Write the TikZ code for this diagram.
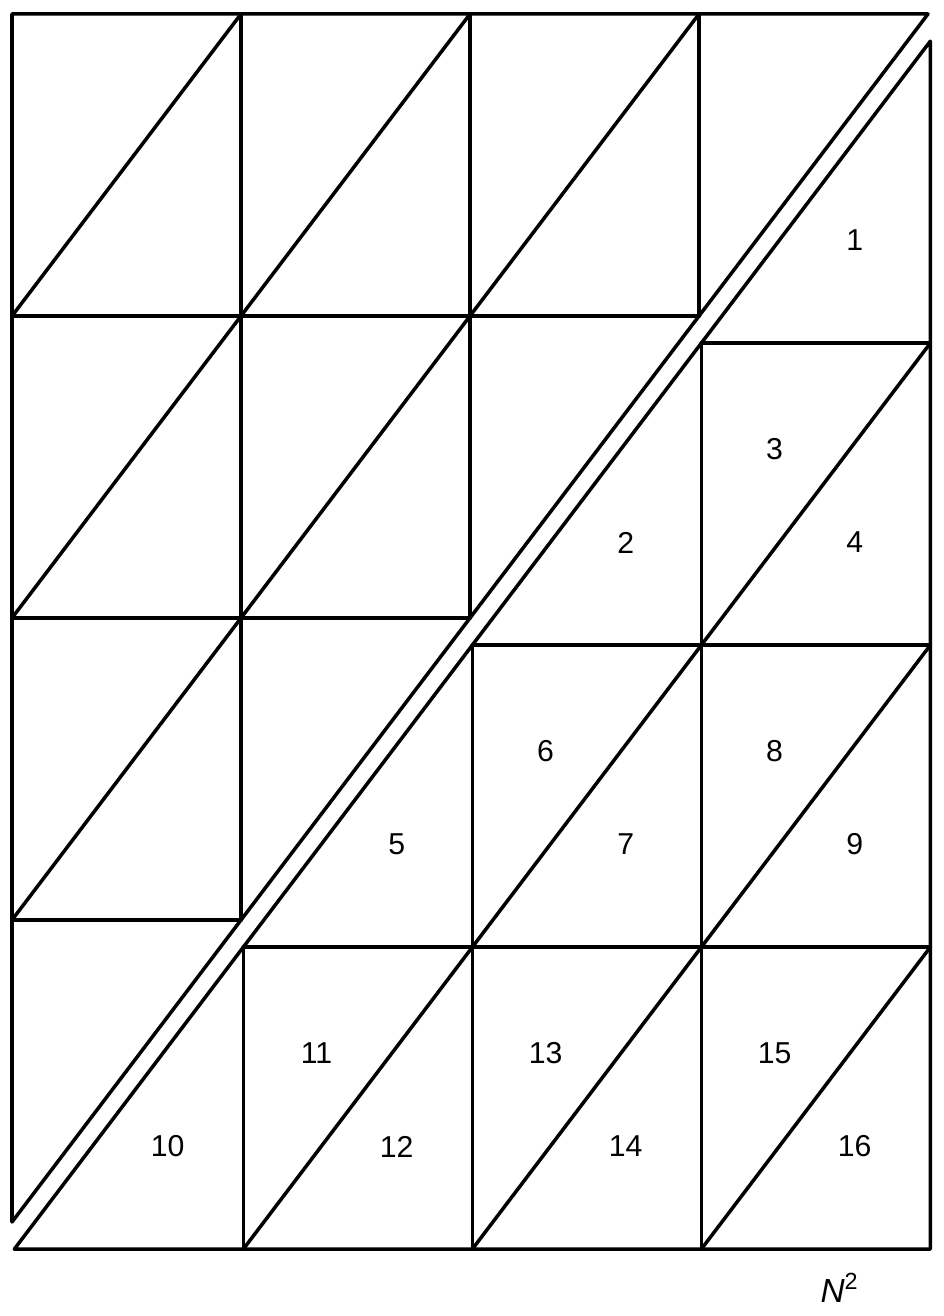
\documentclass[tikz,border=0pt]{standalone}
\usepackage{fontspec}
\setmainfont{Liberation Sans}
\begin{document}
\begin{tikzpicture}[x=2.29cm, y=3.02cm,
    cell edge/.style={line width=1pt, line join=round, line cap=round},
    cell number/.style={font=\fontsize{8.6}{10}\selectfont, inner sep=0pt}]
    \useasboundingbox (-0.12cm,-0.94cm) rectangle (9.31cm,12.22cm);

    % Parte superiore
    \begin{scope}
        \draw[cell edge] (0,0) -- (0,4) -- (4,4) -- cycle;
        \foreach \k in {1,2,3} {
            \draw[cell edge] (0,\k) -- (\k,\k);
            \draw[cell edge] (\k,4) -- (\k,\k);
            \draw[cell edge] (0,\k) -- (4-\k,4);
        }
    \end{scope}

    % Parte inferiore
    \begin{scope}[shift={(0.01,-0.09)}]
        \draw[cell edge] (0,0) -- (4,0) -- (4,4) -- cycle;
        \foreach \k in {1,2,3} {
            \draw[cell edge] (\k,\k) -- (4,\k);
            \draw[cell edge] (\k,0) -- (\k,\k);
            \draw[cell edge] (\k,0) -- (4,4-\k);
        }

        % Numeri
        \foreach \n/\x/\y in {1/3.67/3.34, 2/2.67/2.34, 3/3.32/2.65, 4/3.67/2.34,
                              5/1.67/1.34, 6/2.32/1.65, 7/2.67/1.34, 8/3.32/1.65,
                              9/3.67/1.34, 10/0.67/0.34, 11/1.32/0.65, 12/1.67/0.34,
                              13/2.32/0.65, 14/2.67/0.34, 15/3.32/0.65, 16/3.67/0.34}
            \node[cell number] (n\n) at (\x,\y) {\n};
    \end{scope}

    \node[cell number, font=\fontsize{9.5}{11}\selectfont] (nsq) at (8.28cm,-0.66cm)
        {\itshape N\/\textsuperscript{\upshape 2}};
\end{tikzpicture}
\end{document}
